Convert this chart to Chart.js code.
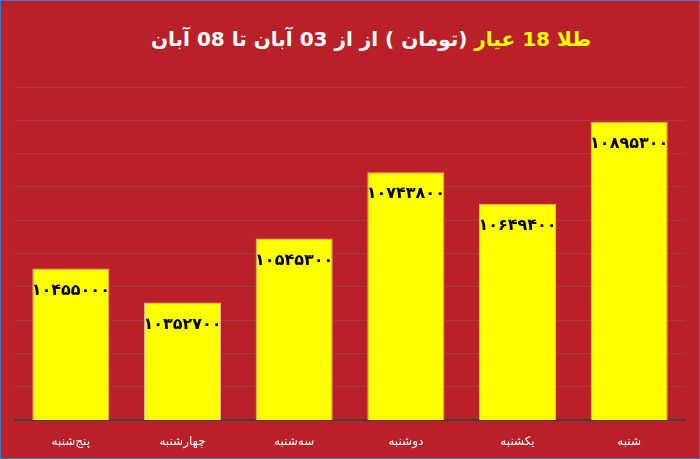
<!DOCTYPE html>
<html lang="fa">
<head>
<meta charset="utf-8">
<script src="https://cdn.jsdelivr.net/npm/chart.js@4"></script>
<style>
  html, body { margin: 0; padding: 0; }
  .wrap {
    position: relative;
    width: 700px;
    height: 459px;
    box-sizing: border-box;
    border: 1px solid #4472c4;
    background: #ba2028;
  }
  .title {
    position: absolute;
    top: 26px;
    left: 40px;
    width: 660px;
    text-align: center;
    direction: rtl;
    color: #ffffff;
    font: bold 20px "DejaVu Sans", sans-serif;
    white-space: nowrap;
  }
  .title .gold { color: #ffff00; }
  canvas { position: absolute; left: -1px; top: -1px; }
</style>
</head>
<body>
<div class="wrap">
  <div class="title"><span class="gold">طلا 18 عیار</span> (تومان ) از از 03 آبان تا 08 آبان</div>
  <canvas id="chart" width="700" height="459"></canvas>
</div>
<script>
// data
const days = ["پنج‌شنبه", "چهارشنبه", "سه‌شنبه", "دوشنبه", "یکشنبه", "شنبه"];
const prices = [10455000, 10352700, 10545300, 10743800, 10649400, 10895300];
const yMin = 10000000;
const yMax = 11000000;
const yStep = 100000;

// persian digits for the labels
const faDigits = "۰۱۲۳۴۵۶۷۸۹";
const toFa = (n) => String(n).replace(/\d/g, (d) => faDigits[d]);

// draw the value inside the top of each bar
const valueLabels = {
  id: "valueLabels",
  afterDatasetsDraw(chart) {
    const ctx = chart.ctx;
    const meta = chart.getDatasetMeta(0);
    ctx.save();
    ctx.fillStyle = "#000000";
    ctx.font = "bold 16px 'DejaVu Sans', sans-serif";
    ctx.textAlign = "center";
    ctx.textBaseline = "middle";
    meta.data.forEach((bar, i) => {
      ctx.fillText(toFa(prices[i]), bar.x, bar.y + 22);
    });
    ctx.restore();
  }
};

const myChart = new Chart(document.getElementById("chart"), {
  type: "bar",
  data: {
    labels: days,
    datasets: [
      {
        data: prices,
        backgroundColor: "#ffff00",
        borderColor: "#f2a6a0",
        borderWidth: 1,
        categoryPercentage: 1,
        barPercentage: 0.69,
      },
    ],
  },
  options: {
    responsive: false,
    animation: false,
    layout: {
      padding: { top: 87, left: 15, right: 15, bottom: 0 },
    },
    plugins: {
      legend: { display: false },
      tooltip: { enabled: false },
    },
    scales: {
      x: {
        grid: { display: false },
        border: { color: "#404040", width: 2 },
        ticks: {
          color: "#ffffff",
          padding: 7,
          font: { family: "'DejaVu Sans', sans-serif", size: 12 },
        },
        afterFit: (scale) => { scale.height = 39; },
      },
      y: {
        min: yMin,
        max: yMax,
        ticks: { display: false, stepSize: yStep },
        grid: { color: "#a43c44", drawTicks: false },
        border: { display: false },
        afterFit: (scale) => { scale.width = 0; },
      },
    },
  },
  plugins: [valueLabels],
});
</script>
</body>
</html>
